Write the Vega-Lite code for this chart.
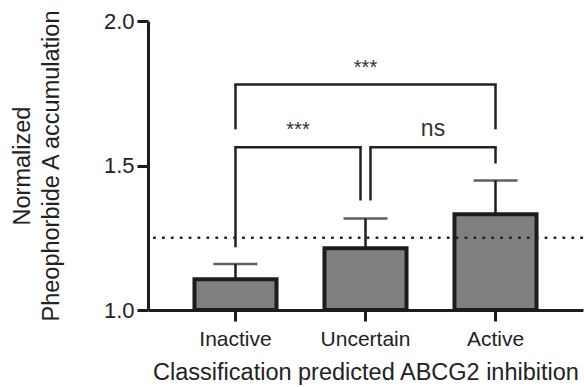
{
  "$schema": "https://vega.github.io/schema/vega-lite/v6.json",
  "width": 435,
  "height": 289,
  "autosize": {"type": "none"},
  "padding": {"left": 148, "top": 21, "right": 1, "bottom": 77},
  "background": "white",
  "config": {
    "view": {"stroke": null},
    "font": "Liberation Sans"
  },
  "datasets": {
    "groups": [
      {"group": "Inactive", "mean": 1.106, "upper": 1.159},
      {"group": "Uncertain", "mean": 1.214, "upper": 1.317},
      {"group": "Active", "mean": 1.331, "upper": 1.448}
    ],
    "reference": [
      {"threshold": 1.25}
    ],
    "brackets": [
      {"from": "Inactive", "to": "Active", "bar": 1.78, "fromEnd": 1.625, "toEnd": 1.625, "label": "***"},
      {"from": "Inactive", "to": "Uncertain", "bar": 1.563, "fromEnd": 1.217, "toEnd": 1.379, "label": "***"},
      {"from": "Uncertain", "to": "Active", "bar": 1.563, "fromEnd": 1.379, "toEnd": 1.507, "label": "ns"}
    ]
  },
  "layer": [
    {
      "data": {"name": "groups"},
      "mark": {"type": "bar", "fill": "#808080", "stroke": "#1c1c1c", "strokeWidth": 4},
      "encoding": {
        "x": {
          "field": "group", "type": "nominal",
          "scale": {"domain": ["Inactive", "Uncertain", "Active"], "paddingInner": 0.369, "paddingOuter": 0.3575},
          "axis": {
            "title": "Classification predicted ABCG2 inhibition",
            "labelAngle": 0, "labelFontSize": 21, "labelPadding": 7, "labelColor": "#222",
            "tickSize": 11, "tickWidth": 3, "tickColor": "#1c1c1c",
            "domainWidth": 3, "domainColor": "#1c1c1c",
            "titleFontSize": 23.5, "titleFontWeight": "normal", "titleColor": "#222", "titlePadding": 11,
            "grid": false
          }
        },
        "y": {
          "field": "mean", "type": "quantitative",
          "scale": {"domain": [1, 2], "nice": false, "zero": false},
          "axis": {
            "title": ["Normalized", "Pheophorbide A accumulation"],
            "values": [1, 1.5, 2], "format": ".1f",
            "labelFontSize": 22, "labelPadding": 3, "labelColor": "#222",
            "tickSize": 11, "tickWidth": 3, "tickColor": "#1c1c1c",
            "domainWidth": 3, "domainColor": "#1c1c1c",
            "titleFontSize": 23.5, "titleFontWeight": "normal", "titleColor": "#222",
            "titleLineHeight": 29, "titlePadding": 40,
            "grid": false
          }
        },
        "y2": {"datum": 1}
      }
    },
    {
      "data": {"name": "groups"},
      "mark": {"type": "rule", "color": "#1c1c1c", "strokeWidth": 2.5},
      "encoding": {
        "x": {"field": "group", "type": "nominal"},
        "y": {"field": "mean", "type": "quantitative"},
        "y2": {"field": "upper"}
      }
    },
    {
      "data": {"name": "groups"},
      "mark": {"type": "tick", "color": "#1c1c1c", "thickness": 2.5, "size": 44},
      "encoding": {
        "x": {"field": "group", "type": "nominal"},
        "y": {"field": "upper", "type": "quantitative"}
      }
    },
    {
      "data": {"name": "reference"},
      "mark": {"type": "rule", "color": "#222", "strokeWidth": 2.7, "strokeDash": [2.7, 6.2], "strokeCap": "butt"},
      "encoding": {
        "y": {"field": "threshold", "type": "quantitative"}
      }
    },
    {
      "data": {"name": "brackets"},
      "mark": {"type": "rule", "color": "#222", "strokeWidth": 2.5,
        "xOffset": {"expr": "datum.from === 'Uncertain' ? 5 : 0"}},
      "encoding": {
        "x": {"field": "from", "type": "nominal"},
        "y": {"field": "bar", "type": "quantitative"},
        "y2": {"field": "fromEnd"}
      }
    },
    {
      "data": {"name": "brackets"},
      "mark": {"type": "rule", "color": "#222", "strokeWidth": 2.5,
        "xOffset": {"expr": "datum.to === 'Uncertain' ? -5 : 0"}},
      "encoding": {
        "x": {"field": "to", "type": "nominal"},
        "y": {"field": "bar", "type": "quantitative"},
        "y2": {"field": "toEnd"}
      }
    },
    {
      "data": {"name": "brackets"},
      "mark": {"type": "rule", "color": "#222", "strokeWidth": 2.5, "strokeCap": "square",
        "xOffset": {"expr": "datum.from === 'Uncertain' ? 5 : 0"},
        "x2Offset": {"expr": "datum.to === 'Uncertain' ? -5 : 0"}},
      "encoding": {
        "x": {"field": "from", "type": "nominal"},
        "x2": {"field": "to"},
        "y": {"field": "bar", "type": "quantitative"}
      }
    },
    {
      "data": {"name": "brackets"},
      "mark": {"type": "text", "color": "#333", "baseline": "alphabetic", "align": "center", "dy": -11,
        "fontSize": {"expr": "datum.label === 'ns' ? 23 : 20"},
        "xOffset": {"expr": "(scale('x', datum.to) - scale('x', datum.from)) / 2 + (datum.from === 'Uncertain' ? 2.5 : 0) + (datum.to === 'Uncertain' ? -2.5 : 0)"}},
      "encoding": {
        "x": {"field": "from", "type": "nominal"},
        "y": {"field": "bar", "type": "quantitative"},
        "text": {"field": "label"}
      }
    }
  ]
}
